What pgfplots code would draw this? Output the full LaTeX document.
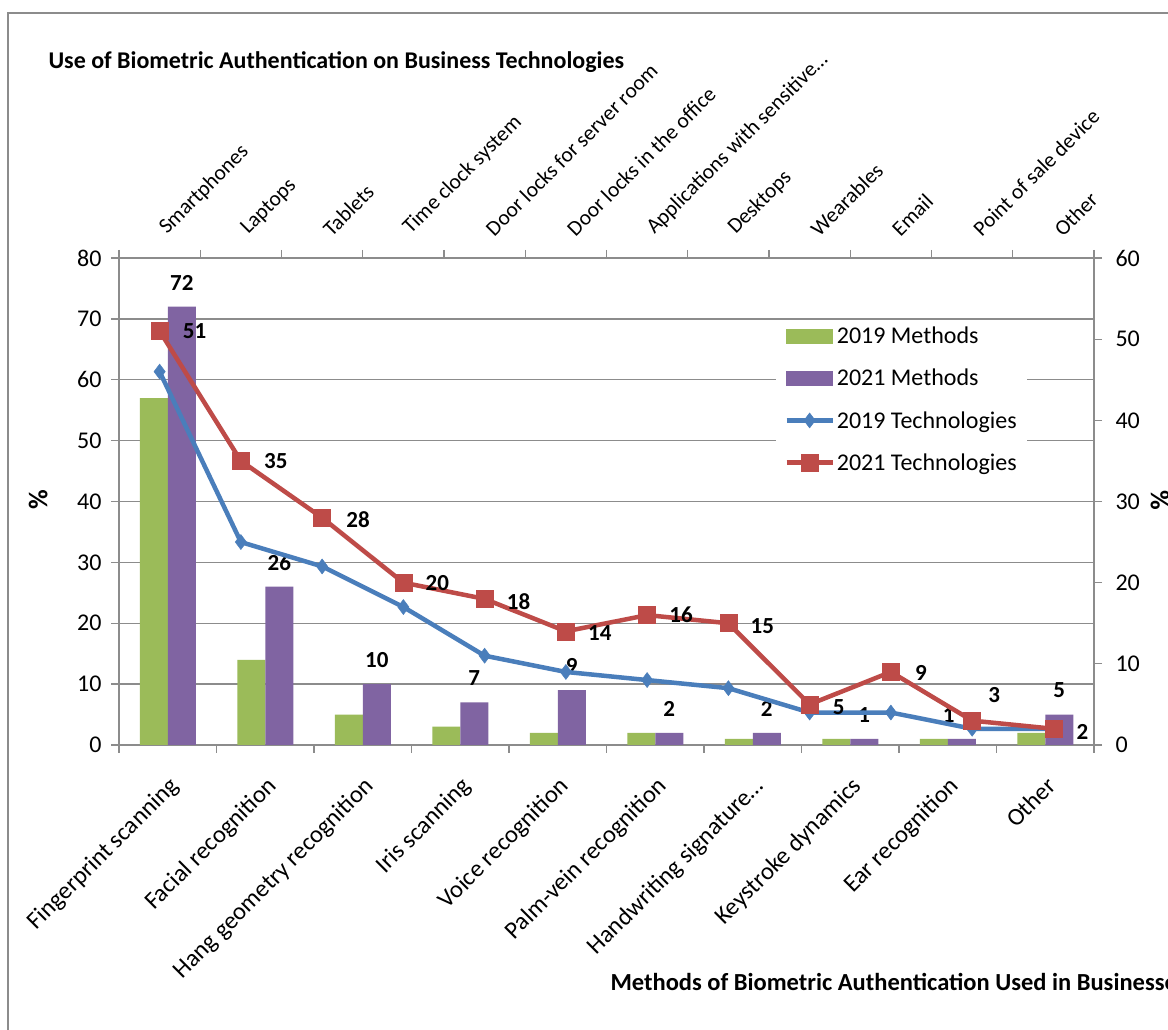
\documentclass[border=0pt]{standalone}
\usepackage{pgfplots}
\pgfplotsset{compat=1.18}
\usepackage{pgfplotstable}
\usepackage{fontspec}
\setmainfont{Carlito}
\definecolor{cgreen}{HTML}{9BBB59}
\definecolor{cpurple}{HTML}{8064A2}
\definecolor{cblue}{HTML}{4A7EBB}
\definecolor{cred}{HTML}{BE4B48}
\definecolor{cgrid}{HTML}{8C8C8C}

\pgfplotstableread{
x m19 m21 dx
0 57 72 14
1 14 26 14
2 5 10 14
3 3 7 14
4 2 9 14
5 2 2 14
6 1 2 14
7 1 1 14
8 1 1 1
9 2 5 14
}\methods

\pgfplotstableread{
x t19 t21 dx dy
0 46 51 35 0
1 25 35 35 0
2 22 28 36 -2
3 17 20 34 0
4 11 18 34 -3
5 9 14 34 -2
6 8 16 34 0
7 7 15 34 -3
8 4 5 29 -3
9 4 9 30 -1
10 2 3 22 26
11 2 2 29 -3
}\tech

\begin{document}
\begin{tikzpicture}[x=1pt,y=1pt]
\clip (0,0) rectangle (1168,1030);
\fill[white] (0,0) rectangle (1168,1030);
\draw[cgrid, line width=2.5pt] (8,0) -- (8,1017) -- (1172,1017);

\begin{axis}[
  at={(119pt,285pt)}, anchor=south west,
  scale only axis, width=975pt, height=487pt,
  xmin=-0.5, xmax=9.5, ymin=0, ymax=80,
  axis x line*=bottom, axis y line*=left,
  axis line style={cgrid, line width=1.3pt, -},
  ytick={0,10,...,80},
  ymajorgrids, grid style={cgrid, line width=1.3pt},
  xtick={-0.5,0.5,...,9.5}, xticklabels={},
  extra x ticks={0,...,9},
  extra x tick labels={Fingerprint scanning, Facial recognition, Hang geometry recognition, Iris scanning, Voice recognition, Palm-vein recognition, Handwriting signature…, Keystroke dynamics, Ear recognition, Other},
  extra x tick style={major tick length=0pt, tick label style={rotate=45, anchor=north east, font=\fontsize{24.5}{28}\selectfont, xshift=-18pt, yshift=-18pt}},
  tick align=outside, major tick length=8pt,
  tick style={cgrid, line width=1.3pt},
  tick label style={font=\fontsize{24}{28}\selectfont},
  /pgf/number format/assume math mode=true,
  yticklabel style={xshift=-6pt},
  xlabel={Methods of Biometric Authentication Used in Businesses},
  xlabel style={at={(axis description cs:0.5005,-0.487)}, anchor=west, font=\bfseries\fontsize{24.5}{28}\selectfont},
  ylabel={\%},
  ylabel style={at={(axis description cs:-0.083,0.503)}, anchor=center, rotate=0, font=\bfseries\fontsize{27}{30}\selectfont},
  title={Use of Biometric Authentication on Business Technologies},
  title style={at={(axis description cs:-0.0759,1.39)}, anchor=west, font=\bfseries\fontsize{24}{28}\selectfont},
]
\addplot[ybar, bar width=28pt, bar shift=-14pt, fill=cgreen, draw=none] table[x=x,y=m19]{\methods};
\addplot[ybar, bar width=28pt, bar shift=14pt, fill=cpurple, draw=none,
  visualization depends on={\thisrow{dx} \as \labdx},
  nodes near coords,
  nodes near coords style={font=\bfseries\fontsize{23}{27}\selectfont, text=black, anchor=center, yshift=24pt, xshift=\labdx pt}] table[x=x,y=m21]{\methods};
\end{axis}

\begin{axis}[
  at={(119pt,285pt)}, anchor=south west,
  scale only axis, width=975pt, height=487pt,
  xmin=-0.5, xmax=11.5, ymin=0, ymax=60,
  axis x line*=top, axis y line*=right,
  axis line style={cgrid, line width=1.3pt, -},
  ytick={0,10,...,60},
  xtick={-0.5,0.5,...,11.5}, xticklabels={},
  extra x ticks={0,...,11},
  extra x tick labels={Smartphones, Laptops, Tablets, Time clock system, Door locks for server room, Door locks in the office, Applications with sensitive…, Desktops, Wearables, Email, Point of sale device, Other},
  extra x tick style={major tick length=0pt, tick label style={rotate=45, anchor=south west, font=\fontsize{21.5}{25}\selectfont, xshift=18pt, yshift=4pt}},
  tick align=outside, major tick length=8pt,
  tick style={cgrid, line width=1.3pt},
  tick label style={font=\fontsize{24}{28}\selectfont},
  /pgf/number format/assume math mode=true,
  yticklabel style={xshift=10pt},
  ylabel={\%},
  ylabel style={at={(axis description cs:1.0677,0.503)}, anchor=center, rotate=180, font=\bfseries\fontsize{27}{30}\selectfont},
  legend cell align=left,
  legend style={at={(axis description cs:0.674,0.873)}, anchor=north west, draw=none, fill=white,
    font=\fontsize{24}{28}\selectfont, row sep=20pt, inner xsep=8pt, inner ysep=5pt},
  legend image code/.code={\draw[mark repeat=2,mark phase=2,#1] plot coordinates {(0pt,0pt) (23pt,0pt) (46pt,0pt)};},
]
\addlegendimage{legend image code/.code={\fill[cgreen] (0pt,-7pt) rectangle (46pt,7pt);}}
\addlegendentry{2019 Methods}
\addlegendimage{legend image code/.code={\fill[cpurple] (0pt,-7pt) rectangle (46pt,7pt);}}
\addlegendentry{2021 Methods}
\addplot[cblue, line width=4.5pt, mark=diamond*, mark size=7.5pt, mark options={solid, fill=cblue, draw=cblue, line width=0.5pt}] table[x=x,y=t19]{\tech};
\addlegendentry{2019 Technologies}
\addplot[cred, line width=4.5pt, mark=square*, mark size=8.5pt, mark options={solid, fill=cred, draw=cred, line width=0.5pt},
  visualization depends on={\thisrow{dx} \as \labdx},
  visualization depends on={\thisrow{dy} \as \labdy},
  nodes near coords,
  nodes near coords style={font=\bfseries\fontsize{23}{27}\selectfont, text=black, anchor=center, xshift=\labdx pt, yshift=\labdy pt}] table[x=x,y=t21]{\tech};
\addlegendentry{2021 Technologies}
\end{axis}
\end{tikzpicture}
\end{document}
